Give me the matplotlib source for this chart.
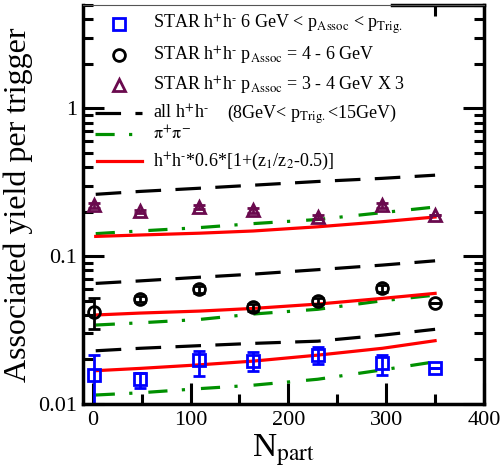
import matplotlib
matplotlib.use("Agg")
import matplotlib.pyplot as plt
from matplotlib.ticker import LogLocator, NullFormatter, FixedLocator

plt.rcParams['font.family'] = ['Liberation Serif', 'DejaVu Serif']
plt.rcParams['mathtext.fontset'] = 'stix'

# --- data ---
npart_pts = [1, 48, 109, 164, 230, 296, 350]
npart_curve = [3, 48, 109, 164, 230, 296, 350]

# STAR 6 GeV < pAssoc < pTrig (squares)
sq_y = [0.0157, 0.0147, 0.0198, 0.0195, 0.0214, 0.0190, 0.0174]
sq_lo = [0.0077, 0.0019, 0.0043, 0.0027, 0.0028, 0.0033, 0.0]
sq_hi = [0.0057, 0.0016, 0.0031, 0.0030, 0.0030, 0.0024, 0.0]
# STAR pAssoc 4-6 GeV (circles)
ci_y = [0.0421, 0.0512, 0.0596, 0.0450, 0.0499, 0.0605, 0.0484]
ci_err = [0.0100, 0.0025, 0.0030, 0.0025, 0.0025, 0.0030, 0.0]
# STAR pAssoc 3-4 GeV x3 (triangles)
tr_y = [0.221, 0.201, 0.215, 0.205, 0.184, 0.221, 0.189]
tr_err = [0.008, 0.005, 0.008, 0.008, 0.006, 0.008, 0.0]

# model curves: all h+h- (dashed), pi+pi- (dash-dot), scaled (red)
all_hi = [0.262, 0.274, 0.288, 0.302, 0.320, 0.336, 0.353]
all_mid = [0.0654, 0.0680, 0.0720, 0.0756, 0.0810, 0.0870, 0.0930]
all_lo = [0.0229, 0.0238, 0.0248, 0.0257, 0.0266, 0.0292, 0.0320]
pi_hi = [0.142, 0.148, 0.156, 0.166, 0.177, 0.197, 0.215]
pi_mid = [0.0342, 0.0354, 0.0373, 0.0406, 0.0437, 0.0499, 0.0545]
pi_lo = [0.0115, 0.0119, 0.0127, 0.0134, 0.0147, 0.0170, 0.0193]
red_hi = [0.136, 0.139, 0.143, 0.148, 0.158, 0.171, 0.184]
red_mid = [0.0400, 0.0412, 0.0425, 0.0443, 0.0474, 0.0518, 0.0560]
red_lo = [0.0168, 0.0174, 0.0184, 0.0195, 0.0214, 0.0238, 0.0268]

BLUE = '#0000ff'
PURPLE = '#6a0a4e'
GREEN = '#009000'
RED = '#ff0000'
dash = dict(color='black', lw=2.3, dashes=(8, 4.5))
dashdot = dict(color=GREEN, lw=2.3, dashes=(6, 4.5, 1, 5))
solid = dict(color=RED, lw=2.3)

fig = plt.figure(figsize=(5.04, 4.76), dpi=100)
ax = fig.add_axes([0.1647, 0.1513, 0.7956, 0.8382])

for ys in (all_hi, all_mid, all_lo):
    ax.plot(npart_curve, ys, **dash)
for ys in (pi_hi, pi_mid, pi_lo):
    ax.plot(npart_curve, ys, **dashdot)
for ys in (red_hi, red_mid, red_lo):
    ax.plot(npart_curve, ys, **solid)

mk = dict(ms=8.5, mew=2.0, mfc='none', ls='none', capsize=4, elinewidth=2.0, capthick=2.0)
ax.errorbar(npart_pts, sq_y, yerr=[sq_lo, sq_hi], fmt='s', color=BLUE, **mk)
ax.errorbar(npart_pts, ci_y, yerr=ci_err, fmt='o', color='black', **mk)
ax.errorbar(npart_pts, tr_y, yerr=tr_err, fmt='^', color=PURPLE, **mk)

ax.set_yscale('log')
ax.set_xlim(-10, 400)
ax.set_ylim(0.01, 5)
ax.xaxis.set_major_locator(FixedLocator([0, 100, 200, 300, 400]))
ax.xaxis.set_minor_locator(FixedLocator([50, 150, 250, 350]))
ax.yaxis.set_major_locator(FixedLocator([0.01, 0.1, 1]))
ax.set_yticklabels(['0.01', '0.1', '1'])
ax.yaxis.set_minor_locator(LogLocator(base=10, subs=range(2, 10)))
ax.yaxis.set_minor_formatter(NullFormatter())
ax.tick_params(which='major', direction='in', length=15, width=2.2, labelsize=16,
               left=True, right=True, bottom=True, top=False, pad=5)
ax.tick_params(which='minor', direction='in', length=7, width=2.2,
               left=True, right=True, bottom=True, top=False)
ax.tick_params(axis='y', pad=4)
for s in ('left', 'right', 'bottom'):
    ax.spines[s].set_linewidth(2.5)
ax.spines['top'].set_linewidth(0.8)
ax.spines['top'].set_color('#555555')
ax.axhline(5, xmin=0.77, xmax=1.0, color='black', lw=2.5, clip_on=False)

top = ax.secondary_xaxis('top')
top.xaxis.set_major_locator(FixedLocator([350]))
top.tick_params(direction='in', length=8, width=2.2, labeltop=False)
top.spines['top'].set_visible(False)

ax.set_xlabel(r'N$_{\rm part}$', fontsize=24, labelpad=2)
ax.set_ylabel('Associated yield per trigger', fontsize=23, labelpad=4)

# hand-placed legend (axes fractions)
hx, tx = 0.09, 0.175
rows_y = [0.952, 0.875, 0.800, 0.729, 0.677, 0.610]
lfs = 13
ax.plot([hx], [rows_y[0]], 's', transform=ax.transAxes, ms=8.5, mew=2.0, mfc='none', color=BLUE)
ax.plot([hx], [rows_y[1]], 'o', transform=ax.transAxes, ms=8.5, mew=2.0, mfc='none', color='black')
ax.plot([hx], [rows_y[2]], '^', transform=ax.transAxes, ms=8.5, mew=2.0, mfc='none', color=PURPLE)
ax.plot([0.03, 0.147], [rows_y[3]] * 2, transform=ax.transAxes, **dash)
ax.plot([0.03, 0.147], [rows_y[4]] * 2, transform=ax.transAxes, **dashdot)
ax.plot([0.035, 0.147], [rows_y[5]] * 2, transform=ax.transAxes, **solid)
hh = r'h$^{+}$h$^{\text{-}}$'
labels = ['STAR ' + hh + r' 6 GeV < p$_{\rm Assoc}$ < p$_{\rm Trig.}$',
          'STAR ' + hh + r' p$_{\rm Assoc}$ = 4 - 6 GeV',
          'STAR ' + hh + r' p$_{\rm Assoc}$ = 3 - 4 GeV X 3',
          'all ' + hh,
          r'$\mathrm{\pi}^{+}\mathrm{\pi}^{-}$',
          hh + r'*0.6*[1+(z$_{1}$/z$_{2}$-0.5)]']
for yy, lab in zip(rows_y, labels):
    ax.text(tx, yy - 0.013, lab, transform=ax.transAxes, fontsize=lfs, va='baseline')
ax.text(0.359, rows_y[3] - 0.013, r'(8GeV< p$_{\rm Trig.}$<15GeV)', transform=ax.transAxes,
        fontsize=lfs, va='baseline')

fig.savefig('out.png', dpi=100)
